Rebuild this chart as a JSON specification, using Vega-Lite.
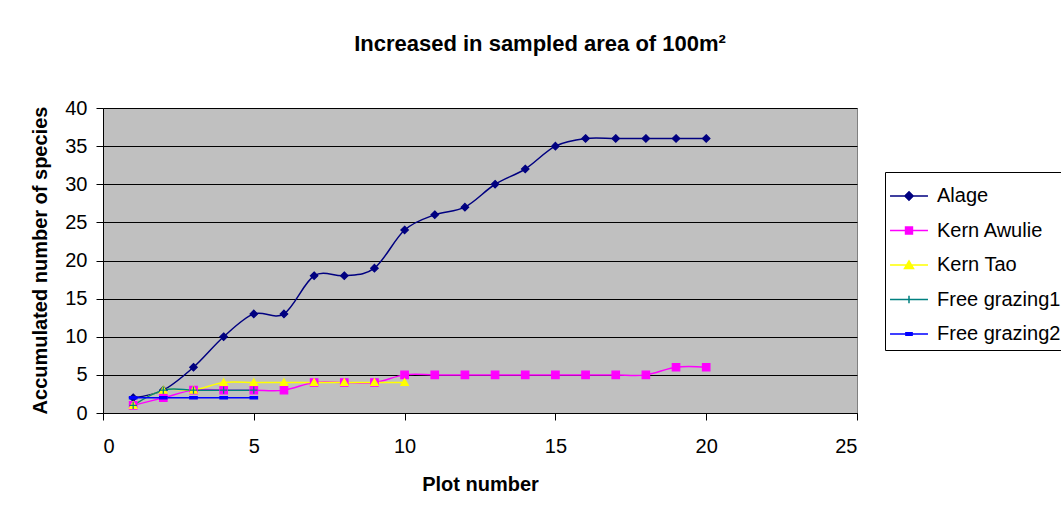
{
  "$schema": "https://vega.github.io/schema/vega-lite/v6.json",
  "autosize": {"type": "none"},
  "padding": {"left": 103, "top": 108, "right": 204, "bottom": 102},
  "width": 754,
  "height": 305,
  "background": "white",
  "title": {
    "text": "Increased in sampled area of 100m²",
    "font": "Liberation Sans",
    "fontSize": 22,
    "fontWeight": "bold",
    "color": "black",
    "frame": "group",
    "anchor": "middle",
    "dx": 60,
    "offset": 42
  },
  "config": {
    "font": "Liberation Sans",
    "view": {"fill": "#C0C0C0", "stroke": "#808080", "strokeWidth": 1},
    "axis": {
      "labelFont": "Liberation Sans",
      "labelFontSize": 20,
      "labelColor": "black",
      "titleFont": "Liberation Sans",
      "titleFontSize": 20,
      "titleFontWeight": "bold",
      "titleColor": "black",
      "domainColor": "black",
      "tickColor": "black",
      "tickSize": 7,
      "gridColor": "black",
      "gridOpacity": 1
    }
  },
  "data": {
    "values": [
      {"plot": 1, "species": 2, "series": "Alage"},
      {"plot": 2, "species": 3, "series": "Alage"},
      {"plot": 3, "species": 6, "series": "Alage"},
      {"plot": 4, "species": 10, "series": "Alage"},
      {"plot": 5, "species": 13, "series": "Alage"},
      {"plot": 6, "species": 13, "series": "Alage"},
      {"plot": 7, "species": 18, "series": "Alage"},
      {"plot": 8, "species": 18, "series": "Alage"},
      {"plot": 9, "species": 19, "series": "Alage"},
      {"plot": 10, "species": 24, "series": "Alage"},
      {"plot": 11, "species": 26, "series": "Alage"},
      {"plot": 12, "species": 27, "series": "Alage"},
      {"plot": 13, "species": 30, "series": "Alage"},
      {"plot": 14, "species": 32, "series": "Alage"},
      {"plot": 15, "species": 35, "series": "Alage"},
      {"plot": 16, "species": 36, "series": "Alage"},
      {"plot": 17, "species": 36, "series": "Alage"},
      {"plot": 18, "species": 36, "series": "Alage"},
      {"plot": 19, "species": 36, "series": "Alage"},
      {"plot": 20, "species": 36, "series": "Alage"},
      {"plot": 1, "species": 1, "series": "Kern Awulie"},
      {"plot": 2, "species": 2, "series": "Kern Awulie"},
      {"plot": 3, "species": 3, "series": "Kern Awulie"},
      {"plot": 4, "species": 3, "series": "Kern Awulie"},
      {"plot": 5, "species": 3, "series": "Kern Awulie"},
      {"plot": 6, "species": 3, "series": "Kern Awulie"},
      {"plot": 7, "species": 4, "series": "Kern Awulie"},
      {"plot": 8, "species": 4, "series": "Kern Awulie"},
      {"plot": 9, "species": 4, "series": "Kern Awulie"},
      {"plot": 10, "species": 5, "series": "Kern Awulie"},
      {"plot": 11, "species": 5, "series": "Kern Awulie"},
      {"plot": 12, "species": 5, "series": "Kern Awulie"},
      {"plot": 13, "species": 5, "series": "Kern Awulie"},
      {"plot": 14, "species": 5, "series": "Kern Awulie"},
      {"plot": 15, "species": 5, "series": "Kern Awulie"},
      {"plot": 16, "species": 5, "series": "Kern Awulie"},
      {"plot": 17, "species": 5, "series": "Kern Awulie"},
      {"plot": 18, "species": 5, "series": "Kern Awulie"},
      {"plot": 19, "species": 6, "series": "Kern Awulie"},
      {"plot": 20, "species": 6, "series": "Kern Awulie"},
      {"plot": 1, "species": 1, "series": "Kern Tao"},
      {"plot": 2, "species": 3, "series": "Kern Tao"},
      {"plot": 3, "species": 3, "series": "Kern Tao"},
      {"plot": 4, "species": 4, "series": "Kern Tao"},
      {"plot": 5, "species": 4, "series": "Kern Tao"},
      {"plot": 6, "species": 4, "series": "Kern Tao"},
      {"plot": 7, "species": 4, "series": "Kern Tao"},
      {"plot": 8, "species": 4, "series": "Kern Tao"},
      {"plot": 9, "species": 4, "series": "Kern Tao"},
      {"plot": 10, "species": 4, "series": "Kern Tao"},
      {"plot": 1, "species": 1, "series": "Free grazing1"},
      {"plot": 2, "species": 3, "series": "Free grazing1"},
      {"plot": 3, "species": 3, "series": "Free grazing1"},
      {"plot": 4, "species": 3, "series": "Free grazing1"},
      {"plot": 5, "species": 3, "series": "Free grazing1"},
      {"plot": 1, "species": 2, "series": "Free grazing2"},
      {"plot": 2, "species": 2, "series": "Free grazing2"},
      {"plot": 3, "species": 2, "series": "Free grazing2"},
      {"plot": 4, "species": 2, "series": "Free grazing2"},
      {"plot": 5, "species": 2, "series": "Free grazing2"}
    ]
  },
  "encoding": {
    "x": {
      "field": "plot",
      "type": "quantitative",
      "scale": {"domain": [0, 25], "nice": false, "zero": false},
      "axis": {
        "title": "Plot number",
        "values": [0, 5, 10, 15, 20, 25],
        "grid": false,
        "labelPadding": 16,
        "titleX": 377,
        "titleY": 71,
        "titleBaseline": "middle",
        "titleAnchor": "middle"
      }
    },
    "y": {
      "field": "species",
      "type": "quantitative",
      "scale": {"domain": [0, 40], "nice": false},
      "axis": {
        "title": "Accumulated number of species",
        "values": [0, 5, 10, 15, 20, 25, 30, 35, 40],
        "grid": true,
        "labelPadding": 9,
        "titleX": -63,
        "titleY": 152,
        "titleAngle": -90,
        "titleBaseline": "middle",
        "titleAlign": "center"
      }
    }
  },
  "layer": [
    {
      "mark": {"type": "line", "interpolate": "cardinal", "strokeWidth": 1.5},
      "encoding": {
        "color": {
          "field": "series",
          "type": "nominal",
          "scale": {
            "domain": ["Alage", "Kern Awulie", "Kern Tao", "Free grazing1", "Free grazing2"],
            "range": ["#000080", "#FF00FF", "#FFFF00", "#008080", "#0000FF"]
          },
          "legend": null
        }
      }
    },
    {
      "mark": {"type": "point", "filled": true, "opacity": 1, "strokeWidth": 1.2},
      "encoding": {
        "color": {
          "field": "series",
          "type": "nominal",
          "scale": {
            "domain": ["Alage", "Kern Awulie", "Kern Tao", "Free grazing1", "Free grazing2"],
            "range": ["#000080", "#FF00FF", "#FFFF00", "#008080", "#0000FF"]
          },
          "legend": null
        },
        "stroke": {
          "field": "series",
          "type": "nominal",
          "scale": {
            "domain": ["Alage", "Kern Awulie", "Kern Tao", "Free grazing1", "Free grazing2"],
            "range": ["#000080", "#FF00FF", "#FFFF00", "#008080", "#0000FF"]
          },
          "legend": null
        },
        "shape": {
          "field": "series",
          "type": "nominal",
          "scale": {
            "domain": ["Alage", "Kern Awulie", "Kern Tao", "Free grazing1", "Free grazing2"],
            "range": [
              "M0,-1L1,0L0,1L-1,0Z",
              "M-1,-1H1V1H-1Z",
              "M0,-1L1,0.8L-1,0.8Z",
              "M-1,0H1M0,-1V1",
              "M-1,-0.3H1V0.3H-1Z"
            ]
          },
          "legend": null
        },
        "size": {"value": 56}
      }
    },
    {
      "transform": [{"filter": "datum.plot > 100"}],
      "mark": {"type": "point", "filled": true, "opacity": 1, "strokeWidth": 1.5},
      "encoding": {
        "color": {
          "field": "series",
          "type": "nominal",
          "scale": {
            "domain": ["Alage", "Kern Awulie", "Kern Tao", "Free grazing1", "Free grazing2"],
            "range": ["#000080", "#FF00FF", "#FFFF00", "#008080", "#0000FF"]
          },
          "legend": {
            "title": null,
            "orient": "none",
            "legendX": 782,
            "legendY": 64,
            "direction": "vertical",
            "fillColor": "white",
            "strokeColor": "black",
            "padding": 6,
            "rowPadding": 6.5,
            "labelFont": "Liberation Sans",
            "labelFontSize": 20,
            "labelColor": "black",
            "labelOffset": 10,
            "labelLimit": 400,
            "symbolSize": 1190,
            "symbolStrokeWidth": 1.5
          }
        },
        "stroke": {
          "field": "series",
          "type": "nominal",
          "scale": {
            "domain": ["Alage", "Kern Awulie", "Kern Tao", "Free grazing1", "Free grazing2"],
            "range": ["#000080", "#FF00FF", "#FFFF00", "#008080", "#0000FF"]
          }
        },
        "shape": {
          "field": "series",
          "type": "nominal",
          "scale": {
            "domain": ["Alage", "Kern Awulie", "Kern Tao", "Free grazing1", "Free grazing2"],
            "range": [
              "M-1.1,0H1.1M0,-0.24L0.24,0L0,0.24L-0.24,0Z",
              "M-1.1,0H1.1M-0.2,-0.2H0.2V0.2H-0.2Z",
              "M-1.1,0H1.1M0,-0.24L0.26,0.2L-0.26,0.2Z",
              "M-1.1,0H1.1M0,-0.22V0.22",
              "M-1.1,0H1.1M-0.18,-0.07H0.18V0.07H-0.18Z"
            ]
          }
        },
        "size": {"value": 1190}
      }
    }
  ],
  "resolve": {
    "scale": {"color": "independent", "stroke": "independent", "shape": "independent"}
  }
}
